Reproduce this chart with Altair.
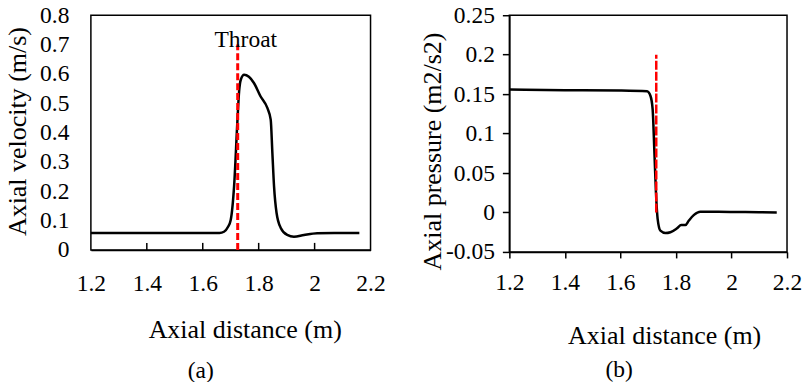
import altair as alt
import pandas as pd

FONT = "Liberation Serif"
LBL = 23.5
TTL = 26

# ---- data ----
vel_x = [1.2, 1.4, 1.6, 1.66, 1.676, 1.69, 1.70, 1.712, 1.724, 1.73, 1.736, 1.748,
         1.765, 1.783, 1.807, 1.831, 1.843, 1.849, 1.855, 1.864, 1.879, 1.902,
         1.926, 1.962, 2.009, 2.07, 2.16]
vel_y = [0.058, 0.058, 0.058, 0.058, 0.062, 0.078, 0.102, 0.216, 0.44, 0.54, 0.58, 0.597,
         0.59, 0.569, 0.523, 0.484, 0.444, 0.33, 0.216, 0.126, 0.075, 0.051,
         0.045, 0.051, 0.057, 0.058, 0.058]

pres_x = [1.2, 1.4, 1.6, 1.696, 1.708, 1.716, 1.722, 1.728, 1.734, 1.744, 1.762,
          1.780, 1.804, 1.819, 1.834, 1.846, 1.864, 1.888, 1.953, 2.05, 2.163]
pres_y = [0.156, 0.155, 0.1545, 0.1536, 0.148, 0.131, 0.080, 0.025, -0.008, -0.023, -0.026,
          -0.025, -0.020, -0.016, -0.016, -0.0105, -0.0034, 0.001, 0.001, 0.0005, 0.0]

x_ticks = [1.2, 1.4, 1.6, 1.8, 2.0, 2.2]
inner_ticks = [1.4, 1.6, 1.8, 2.0]
vel_ticks = [0, 0.1, 0.2, 0.3, 0.4, 0.5, 0.6, 0.7, 0.8]
pres_ticks = [-0.05, 0, 0.05, 0.1, 0.15, 0.2, 0.25]

throat_a = {"x": [1.725], "y": [0.0], "y2": [0.7]}
throat_b = {"x": [1.729], "y": [0.0], "y2": [0.2]}
throat_label = {"x": [1.754], "y": [0.717], "t": ["Throat"]}
inner_tick_len = 0.024

vel_df = pd.DataFrame({"x": vel_x, "y": vel_y})
pres_df = pd.DataFrame({"x": pres_x, "y": pres_y})
ticks_df = pd.DataFrame({"x": inner_ticks, "y": [0.0] * len(inner_ticks),
                         "y2": [inner_tick_len] * len(inner_ticks)})

FMT = "replace(format(datum.value, '~g'), '\u2212', '-')"

# ---------------- panel (a) ----------------
xs_a = alt.Scale(domain=[1.2, 2.2], nice=False, zero=False)
ys_a = alt.Scale(domain=[0, 0.8], nice=False)

x_axis_a = alt.Axis(values=x_ticks, tickCount=50, title="Axial distance (m)", tickSize=0,
                    labelPadding=21.5, labelFlush=False, labelOverlap=False, labelExpr=FMT,
                    grid=False, domainColor="black", domainWidth=1.5,
                    titleX=154, titleY=80, titleBaseline="middle", titleAlign="center")
y_axis_a = alt.Axis(values=vel_ticks, tickCount=50, title="Axial velocity (m/s)", tickSize=0,
                    labelPadding=22, domain=False, grid=False, labelFlush=False,
                    labelOverlap=False, labelExpr=FMT,
                    titleX=-73, titleY=116, titleAngle=-90, titleBaseline="middle",
                    titleAlign="center")

line_a = alt.Chart(vel_df).mark_line(color="black", strokeWidth=2.5, interpolate="monotone").encode(
    x=alt.X("x:Q", scale=xs_a, axis=x_axis_a),
    y=alt.Y("y:Q", scale=ys_a, axis=y_axis_a),
)
ticks_a = alt.Chart(ticks_df).mark_rule(color="black", strokeWidth=1.5).encode(
    x="x:Q", y="y:Q", y2="y2:Q")
rule_a = alt.Chart(pd.DataFrame(throat_a)).mark_rule(
    color="#ff0000", strokeWidth=3, strokeDash=[7, 3]).encode(
    x="x:Q", y="y:Q", y2="y2:Q")
text_a = alt.Chart(pd.DataFrame(throat_label)).mark_text(
    font=FONT, fontSize=LBL, color="black", baseline="middle", align="center").encode(
    x="x:Q", y="y:Q", text="t:N")

panel_a = alt.layer(line_a, ticks_a, rule_a, text_a).properties(
    width=280, height=235,
    title=alt.TitleParams("(a)", orient="bottom", anchor="middle", dx=-30, offset=16,
                          font=FONT, fontSize=LBL, fontWeight="normal", color="black"))

# ---------------- panel (b) ----------------
xs_b = alt.Scale(domain=[1.2, 2.2], nice=False, zero=False)
ys_b = alt.Scale(domain=[-0.05, 0.25], nice=False, zero=False)

x_axis_b = alt.Axis(values=x_ticks, tickCount=50, title="Axial distance (m)", tickSize=6,
                    tickColor="black", tickWidth=1.5, labelPadding=13, labelFlush=False,
                    labelOverlap=False, labelExpr=FMT, grid=False, domainColor="black",
                    domainWidth=1.5,
                    titleX=155, titleY=84, titleBaseline="middle", titleAlign="center")
y_axis_b = alt.Axis(values=pres_ticks, tickCount=50, title="Axial pressure (m2/s2)", tickSize=7,
                    tickColor="black", tickWidth=1.5, labelPadding=8, labelFlush=False,
                    labelOverlap=False, domainColor="black", domainWidth=1.5, grid=False,
                    labelExpr=FMT,
                    titleX=-77, titleY=136, titleAngle=-90, titleBaseline="middle",
                    titleAlign="center")

line_b = alt.Chart(pres_df).mark_line(color="black", strokeWidth=2.5, interpolate="monotone").encode(
    x=alt.X("x:Q", scale=xs_b, axis=x_axis_b),
    y=alt.Y("y:Q", scale=ys_b, axis=y_axis_b),
)
rule_b = alt.Chart(pd.DataFrame(throat_b)).mark_rule(
    color="#ff0000", strokeWidth=2.5, strokeDash=[9, 2]).encode(
    x="x:Q", y="y:Q", y2="y2:Q")

panel_b = alt.layer(line_b, rule_b).properties(
    width=278, height=237,
    title=alt.TitleParams("(b)", orient="bottom", anchor="middle", dx=-29, offset=9,
                          font=FONT, fontSize=LBL, fontWeight="normal", color="black"))

chart = alt.hconcat(panel_a, panel_b, spacing=32).properties(
    padding={"left": 4, "top": 2, "right": 0, "bottom": 0},
    background="white",
).configure_view(
    stroke="black", strokeWidth=1.5
).configure_axis(
    labelFont=FONT, titleFont=FONT, labelFontSize=LBL, titleFontSize=TTL,
    labelColor="black", titleColor="black", titleFontWeight="normal", labelOverlap=False,
)

chart.save("out.html", embed_options={"renderer": "svg", "actions": False})
